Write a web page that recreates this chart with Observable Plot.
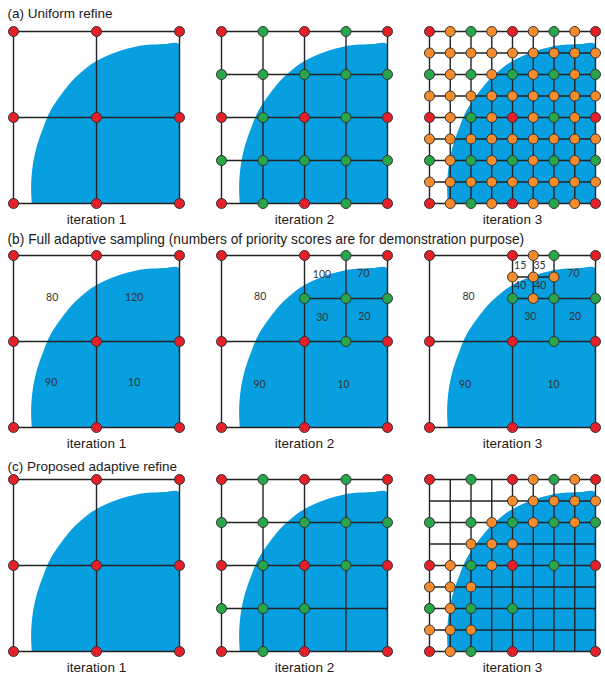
<!DOCTYPE html>
<html>
<head>
<meta charset="utf-8">
<script src="https://cdn.jsdelivr.net/npm/d3@7"></script>
<script src="https://cdn.jsdelivr.net/npm/@observablehq/plot@0.6"></script>
<style>
  html, body { margin: 0; padding: 0; background: #fff; }
  #chart { width: 605px; height: 682px; }
</style>
</head>
<body>
<div id="chart"></div>
<script>
// ---------- data ----------
const rowKeys = ["a", "b", "c"];
const iterKeys = [1, 2, 3];
const rowTitles = [
  "(a) Uniform refine",
  "(b) Full adaptive sampling (numbers of priority scores are for demonstration purpose)",
  "(c) Proposed adaptive refine"
];
const iterationLabels = ["iteration 1", "iteration 2", "iteration 3"];

// grid line spacing (in eighths of the domain) per iteration
const gridStepA = [4, 2, 1];
const gridStepB = [4, 4, 4];
const gridStepC = [4, 2, 1];
// extra partial grid segments (x1, y1, x2, y2 in eighths) for row (b)
const extraLinesB1 = [];
const extraLinesB2 = [[6, 4, 6, 8], [4, 6, 8, 6]];
const extraLinesB3 = [[6, 4, 6, 8], [4, 6, 8, 6], [5, 6, 5, 8], [4, 7, 6, 7]];

// sample nodes on a 9x9 lattice, top row first: R = initial, G = 2nd level, O = 3rd level
const nodesCoarse = ["R...R...R", ".........", ".........", ".........", "R...R...R", ".........", ".........", ".........", "R...R...R"];
const nodesA2 = ["R.G.R.G.R", ".........", "G.G.G.G.G", ".........", "R.G.R.G.R", ".........", "G.G.G.G.G", ".........", "R.G.R.G.R"];
const nodesA3 = ["ROGOROGOR", "OOOOOOOOO", "GOGOGOGOG", "OOOOOOOOO", "ROGOROGOR", "OOOOOOOOO", "GOGOGOGOG", "OOOOOOOOO", "ROGOROGOR"];
const nodesB2 = ["R...R.G.R", ".........", "....G.G.G", ".........", "R...R.G.R", ".........", ".........", ".........", "R...R...R"];
const nodesB3 = ["R...ROG.R", "....OOO..", "....GOG.G", ".........", "R...R.G.R", ".........", ".........", ".........", "R...R...R"];
const nodesC2 = ["R.G.R.G.R", ".........", "G.G.G.G.G", ".........", "R.G.R.G.R", ".........", "G.G.G....", ".........", "R.G.R...R"];
const nodesC3 = ["R.G.ROGOR", "....OOOOO", "G.GOGOGOG", "..OOO....", "ROGOR.G.R", "OOO......", "GOG.G....", "OOO......", "ROG.R...R"];

// priority scores shown in row (b): [text, x, y]
const scoresB1 = [["80", 0.233, 0.755], ["120", 0.727, 0.755], ["90", 0.227, 0.263], ["10", 0.727, 0.263]];
const scoresB2 = [["80", 0.233, 0.759], ["100", 0.605, 0.888], ["70", 0.855, 0.892], ["30", 0.607, 0.638], ["20", 0.861, 0.646], ["90", 0.229, 0.252], ["10", 0.735, 0.252]];
const scoresB3 = [["80", 0.235, 0.759], ["15", 0.546, 0.94], ["35", 0.663, 0.94], ["40", 0.546, 0.825], ["40", 0.667, 0.825], ["70", 0.867, 0.892], ["30", 0.607, 0.642], ["20", 0.877, 0.642], ["90", 0.215, 0.247], ["10", 0.747, 0.247]];

// boundary of the blue region
const blueEdgeX = [0.110, 0.106, 0.110, 0.124, 0.150, 0.180, 0.210, 0.254, 0.304, 0.364, 0.424, 0.478, 0.554, 0.634, 0.734, 0.834, 0.914, 1.0];
const blueEdgeY = [0.000, 0.091, 0.169, 0.267, 0.364, 0.442, 0.516, 0.588, 0.656, 0.724, 0.776, 0.815, 0.854, 0.885, 0.912, 0.924, 0.928, 0.924];

// ---------- build the faceted table ----------
const nodeColor = {R: "#e51f26", G: "#27a64a", O: "#f68b2b"};
const gridSteps = {a: gridStepA, b: gridStepB, c: gridStepC};
const nodeSets = {
  a: [nodesCoarse, nodesA2, nodesA3],
  b: [nodesCoarse, nodesB2, nodesB3],
  c: [nodesCoarse, nodesC2, nodesC3]
};
const extraSets = {a: [[], [], []], b: [extraLinesB1, extraLinesB2, extraLinesB3], c: [[], [], []]};
const scoreSets = {a: [[], [], []], b: [scoresB1, scoresB2, scoresB3], c: [[], [], []]};

const items = [];
rowKeys.forEach((row, ri) => {
  iterKeys.forEach((iter, ci) => {
    const base = {row, iter};
    blueEdgeX.forEach((x, k) => items.push({...base, kind: "blue", x, y: blueEdgeY[k]}));
    items.push({...base, kind: "blue", x: 1, y: 0});
    const step = gridSteps[row][ci];
    for (let v = 0; v <= 8; v += step) {
      items.push({...base, kind: "line", x1: v / 8, y1: 0, x2: v / 8, y2: 1});
      items.push({...base, kind: "line", x1: 0, y1: v / 8, x2: 1, y2: v / 8});
    }
    extraSets[row][ci].forEach(([a, b, c, d]) =>
      items.push({...base, kind: "line", x1: a / 8, y1: b / 8, x2: c / 8, y2: d / 8}));
    nodeSets[row][ci].forEach((str, j) => {
      [...str].forEach((ch, i) => {
        if (ch !== ".") items.push({...base, kind: "node", x: i / 8, y: (8 - j) / 8, c: nodeColor[ch]});
      });
    });
    scoreSets[row][ci].forEach(([t, x, y]) => items.push({...base, kind: "score", x, y, text: t}));
    items.push({...base, kind: "iter", text: iterationLabels[ci]});
    if (ci === 0) items.push({...base, kind: "title", text: rowTitles[ri]});
  });
});

const font = "'Liberation Sans', Arial, Helvetica, sans-serif";
const isKind = k => d => d.kind === k;

const chart = Plot.plot({
  width: 605,
  height: 682,
  marginLeft: 12,
  marginRight: 8,
  marginTop: 30,
  marginBottom: 30,
  facet: {data: items, x: "iter", y: "row"},
  fx: {domain: iterKeys, paddingInner: 0.2, paddingOuter: 0, axis: null},
  fy: {domain: rowKeys, paddingInner: 0.2316, paddingOuter: 0, axis: null},
  x: {domain: [0, 1], axis: null},
  y: {domain: [0, 1], axis: null},
  color: {type: "identity"},
  style: {fontFamily: font, background: "#fff", overflow: "visible"},
  marks: [
    Plot.line(items, {filter: isKind("blue"), x: "x", y: "y", fill: "#079fdf", stroke: "none", curve: "catmull-rom", clip: true}),
    Plot.link(items, {filter: isKind("line"), x1: "x1", y1: "y1", x2: "x2", y2: "y2", stroke: "#222", strokeWidth: 1.4}),
    Plot.dot(items, {filter: isKind("node"), x: "x", y: "y", r: 5, fill: "c", stroke: "#333", strokeWidth: 1}),
    Plot.text(items, {filter: isKind("score"), x: "x", y: "y", text: "text", fontSize: 10.5, fontFamily: "Lato, 'Open Sans', sans-serif", fill: "#333"}),
    Plot.text(items, {filter: isKind("iter"), text: "text", frameAnchor: "bottom", lineAnchor: "bottom", dy: 20, fontSize: 13.5, fill: "#1a1a1a"}),
    Plot.text(items, {filter: d => d.kind === "title" && d.row === "a", text: "text", frameAnchor: "top-left", textAnchor: "start", lineAnchor: "bottom", dx: -6, dy: -14, fontSize: 13.5, fill: "#1a1a1a"}),
    Plot.text(items, {filter: d => d.kind === "title" && d.row === "b", text: "text", frameAnchor: "top-left", textAnchor: "start", lineAnchor: "bottom", dx: -6, dy: -12, fontSize: 13.75, fill: "#1a1a1a"}),
    Plot.text(items, {filter: d => d.kind === "title" && d.row === "c", text: "text", frameAnchor: "top-left", textAnchor: "start", lineAnchor: "bottom", dx: -6, dy: -9, fontSize: 13.5, fill: "#1a1a1a"})
  ]
});
document.getElementById("chart").appendChild(chart);
</script>
</body>
</html>
